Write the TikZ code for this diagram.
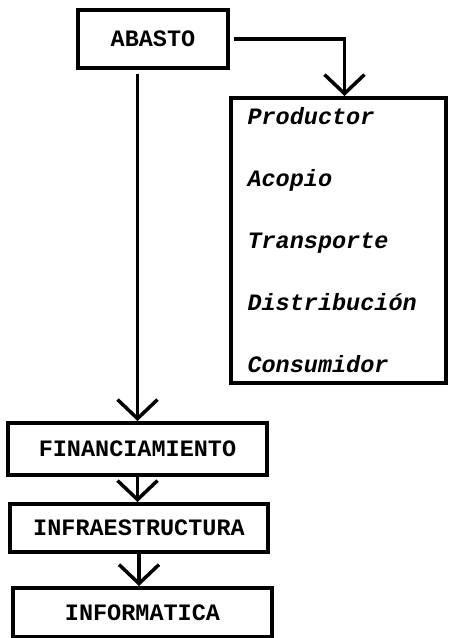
\documentclass[tikz,border=0pt]{standalone}
\usepackage{fontspec}
\setmonofont{Liberation Mono}
\usetikzlibrary{arrows.meta,positioning}

\tikzset{
    caja/.style={draw, line width=4pt, inner sep=0pt,
        font=\ttfamily\bfseries\fontsize{23.5}{26}\selectfont},
    flecha/.style={line width=3.5pt, -{Straight Barb[length=19pt,width=40pt,line width=3.5pt]}}
}

\begin{document}
\begin{tikzpicture}[x=1pt,y=1pt]
        \useasboundingbox (0,0) rectangle (448,638);

        % ABASTO - top box
        \node[caja, minimum width=150pt, minimum height=58pt] (abasto) at (153,599) {ABASTO};

        % cadena - RIGHT side, list of steps
        \node[caja, minimum width=215pt, minimum height=285pt, text width=182pt, align=left,
            font=\ttfamily\bfseries\itshape\fontsize{23.5}{62}\selectfont] (cadena) at (338.5,397.5)
            {Productor\\Acopio\\Transporte\\Distribución\\Consumidor};

        % lower chain of boxes
        \node[caja, minimum width=259pt, minimum height=52pt] (fin) at (137.5,189) {FINANCIAMIENTO};
        \node[caja, minimum width=258pt, minimum height=48pt] (infra) at (139,110) {INFRAESTRUCTURA};
        \node[caja, minimum width=259pt, minimum height=49pt] (info) at (142.5,25.5) {INFORMATICA};

        % arrows
        \draw[flecha] ([xshift=4pt]abasto.east) -| ([xshift=6pt]cadena.north);
        \draw[flecha] ([yshift=-4pt]abasto.south -| fin.north) -- (fin.north);
        \draw[flecha] (fin.south) -- (fin.south |- infra.north);
        \draw[flecha] (infra.south) -- (infra.south |- info.north);

    \end{tikzpicture}
\end{document}
